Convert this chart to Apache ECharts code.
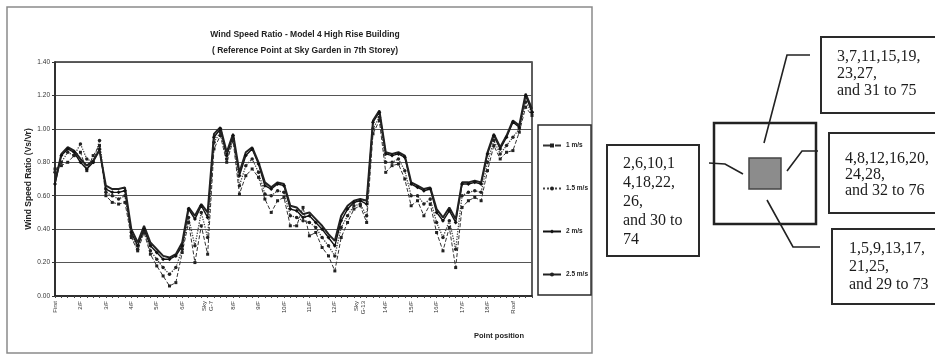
<!DOCTYPE html>
<html>
<head>
<meta charset="utf-8">
<title>Wind Speed Ratio - Model 4</title>
<script src="https://cdn.jsdelivr.net/npm/echarts@6.0.0/dist/echarts.min.js"></script>
<style>
  html, body { margin: 0; padding: 0; background: #fff; }
  #chart { width: 935px; height: 355px; }
</style>
</head>
<body>
<div id="chart"></div>
<script>
// Floor labels along the x axis; each floor holds four measuring points.
const floorLabels = ['First', '2/F', '3/F', '4/F', '5/F', '6/F', 'Sky\nG-7', '8/F', '9/F', '10/F',
  '11/F', '12/F', 'Sky\nG-13', '14/F', '15/F', '16/F', '17/F', '18/F', 'Roof'];
const pointsPerFloor = 4;

// Wind speed ratio (Vs/Vr) at points 1..76 for each reference wind speed.
const ratio1 = [0.76,0.78,0.80,0.84,0.86,0.75,0.84,0.90,0.60,0.56,0.55,0.56,
  0.35,0.27,0.38,0.25,0.18,0.12,0.06,0.08,0.26,0.44,0.20,0.42,0.25,
  0.88,0.96,0.80,0.93,0.61,0.72,0.76,0.71,0.58,0.50,0.57,0.59,0.42,0.42,0.53,0.36,0.38,0.29,0.24,0.15,0.35,0.44,0.52,0.54,0.44,
  0.97,1.05,0.74,0.78,0.79,0.70,0.54,0.57,0.48,0.55,0.38,0.27,0.41,0.17,0.53,0.57,0.59,0.57,0.75,0.90,0.82,0.86,0.87,0.98,1.13,1.08];
const ratio15 = [0.74,0.80,0.86,0.84,0.91,0.82,0.80,0.93,0.62,0.60,0.58,0.60,
  0.36,0.28,0.39,0.27,0.22,0.17,0.13,0.17,0.28,0.47,0.30,0.50,0.35,
  0.92,0.98,0.82,0.94,0.66,0.78,0.82,0.74,0.61,0.60,0.63,0.62,0.48,0.47,0.45,0.44,0.41,0.35,0.30,0.24,0.41,0.48,0.54,0.55,0.48,
  1.00,1.07,0.80,0.80,0.82,0.75,0.60,0.60,0.55,0.58,0.44,0.35,0.45,0.28,0.60,0.62,0.63,0.62,0.80,0.93,0.85,0.90,0.95,1.00,1.16,1.10];
const ratio2 = [0.67,0.84,0.88,0.86,0.80,0.76,0.80,0.88,0.64,0.62,0.62,0.63,
  0.38,0.30,0.40,0.30,0.26,0.22,0.22,0.24,0.30,0.52,0.46,0.54,0.47,
  0.95,1.00,0.84,0.96,0.72,0.84,0.88,0.79,0.66,0.64,0.67,0.66,0.52,0.51,0.47,0.48,0.44,0.40,0.35,0.30,0.45,0.52,0.56,0.57,0.55,
  1.04,1.10,0.85,0.84,0.85,0.83,0.67,0.65,0.63,0.64,0.50,0.45,0.51,0.44,0.67,0.67,0.68,0.67,0.85,0.96,0.88,0.95,1.04,1.01,1.20,1.10];
const ratio25 = [0.68,0.85,0.89,0.87,0.82,0.78,0.81,0.87,0.66,0.64,0.64,0.65,
  0.40,0.32,0.42,0.32,0.28,0.24,0.23,0.25,0.32,0.53,0.48,0.55,0.50,
  0.97,1.01,0.86,0.97,0.74,0.86,0.89,0.80,0.68,0.65,0.68,0.67,0.54,0.53,0.49,0.50,0.46,0.42,0.37,0.33,0.48,0.54,0.57,0.58,0.57,
  1.05,1.11,0.86,0.85,0.86,0.84,0.68,0.66,0.64,0.65,0.52,0.47,0.53,0.46,0.68,0.68,0.69,0.68,0.86,0.97,0.89,0.96,1.05,1.02,1.21,1.12];

const seriesNames = ['1 m/s', '1.5 m/s', '2 m/s', '2.5 m/s'];
const yTicks = { min: 0, max: 1.4, step: 0.2 };

const titleLines = ['Wind Speed Ratio - Model 4 High Rise Building', '( Reference Point at Sky Garden in 7th Storey)'];

// Facade point groups shown in the plan sketch.
const groupTop = ['3,7,11,15,19,', '23,27,', 'and 31 to 75'];
const groupRight = ['4,8,12,16,20,', '24,28,', 'and 32 to 76'];
const groupBottom = ['1,5,9,13,17,', '21,25,', 'and 29 to 73'];
const groupLeft = ['2,6,10,1', '4,18,22,', '26,', 'and 30 to', '74'];

// One category per measuring point; the floor name sits on the first point of each floor.
const pointCount = ratio2.length;
const categories = [];
for (let i = 0; i < pointCount; i++) {
  categories.push(i % pointsPerFloor === 0 ? floorLabels[i / pointsPerFloor] : '');
}

const sansFont = '"Liberation Sans", Arial, sans-serif';
const serifFont = '"Liberation Serif", "Times New Roman", serif';
const ink = '#1c1c1c';

function boxText(lines, x, y, lineHeight) {
  return {
    type: 'text', z: 20,
    style: { text: lines.join('\n'), x: x, y: y, fill: ink,
      font: '16px ' + serifFont, lineHeight: lineHeight, textVerticalAlign: 'top' }
  };
}
function box(x, y, w, h) {
  return { type: 'rect', z: 15, shape: { x: x, y: y, width: w, height: h },
    style: { fill: '#fff', stroke: '#2a2a2a', lineWidth: 2 } };
}
function leader(points) {
  return { type: 'polyline', z: 16, shape: { points: points },
    style: { stroke: '#222', lineWidth: 1.6, fill: null } };
}

const chart = echarts.init(document.getElementById('chart'), null, { renderer: 'canvas' });

chart.setOption({
  animation: false,
  backgroundColor: '#fff',
  textStyle: { fontFamily: sansFont },
  title: {
    text: titleLines.join('\n'),
    left: 300, top: 22, textAlign: 'center',
    textStyle: { fontSize: 8.5, fontWeight: 'bold', color: '#222', lineHeight: 16, fontFamily: sansFont }
  },
  grid: {
    left: 55, right: 403, top: 62, bottom: 59,
    show: true, borderColor: '#2a2a2a', borderWidth: 1.5, backgroundColor: '#fff'
  },
  legend: {
    orient: 'vertical', left: 538, top: 125,
    padding: [17, 3, 17, 4], itemGap: 36, itemWidth: 18, itemHeight: 5,
    borderColor: '#2a2a2a', borderWidth: 1.5,
    textStyle: { fontSize: 6.5, fontWeight: 'bold', color: '#222' },
    data: seriesNames
  },
  xAxis: {
    type: 'category', data: categories, boundaryGap: false,
    axisLine: { lineStyle: { color: '#222', width: 1.5 } },
    axisTick: { show: true, interval: 0, length: 2, lineStyle: { color: '#444' } },
    axisLabel: { interval: 0, rotate: 90, fontSize: 6, color: '#333', margin: 5, lineHeight: 7 },
    splitLine: { show: false }
  },
  yAxis: {
    type: 'value', min: yTicks.min, max: yTicks.max, interval: yTicks.step,
    name: 'Wind Speed Ratio (Vs/Vr)', nameLocation: 'middle', nameGap: 22, nameMoveOverlap: false,
    nameTextStyle: { fontSize: 8.5, fontWeight: 'bold', color: '#222' },
    axisLine: { show: true, lineStyle: { color: '#222', width: 1.5 } },
    axisTick: { show: true, length: 3, lineStyle: { color: '#333' } },
    axisLabel: { fontSize: 6.5, color: '#333', margin: 5, formatter: v => v.toFixed(2) },
    splitLine: { lineStyle: { color: '#555', width: 1.2 } }
  },
  series: [
    { name: seriesNames[0], type: 'line', data: ratio1, symbol: 'rect', symbolSize: 3,
      lineStyle: { type: 'dashed', width: 1, color: '#333' }, itemStyle: { color: '#222' } },
    { name: seriesNames[1], type: 'line', data: ratio15, symbol: 'circle', symbolSize: 3.5,
      lineStyle: { type: 'dotted', width: 1.3, color: '#444' }, itemStyle: { color: '#222' } },
    { name: seriesNames[2], type: 'line', data: ratio2, symbol: 'diamond', symbolSize: 4,
      lineStyle: { width: 1.4, color: '#111' }, itemStyle: { color: '#111' } },
    { name: seriesNames[3], type: 'line', data: ratio25, symbol: 'none',
      lineStyle: { width: 2, color: '#222' }, itemStyle: { color: '#222' } }
  ],
  graphic: [
    // chart frame
    { type: 'rect', z: -1, shape: { x: 7, y: 7, width: 585, height: 346 },
      style: { fill: 'none', stroke: '#8a8a8a', lineWidth: 1.5 } },
    { type: 'text', z: 5, style: { text: 'Point position', x: 499, y: 336, fill: '#222',
      font: 'bold 7.5px ' + sansFont, textAlign: 'center', textVerticalAlign: 'middle' } },

    // plan sketch: building outline and core
    { type: 'rect', z: 10, shape: { x: 714, y: 123, width: 102, height: 101 },
      style: { fill: 'none', stroke: '#222', lineWidth: 2.5 } },
    { type: 'rect', z: 10, shape: { x: 749, y: 158, width: 32, height: 31 },
      style: { fill: '#8c8c8c', stroke: '#444', lineWidth: 1.5 } },

    leader([[764, 143], [787, 55], [810, 55]]),
    leader([[787, 171], [802, 151], [818, 151]]),
    leader([[767, 200], [793, 247], [820, 247]]),
    leader([[709, 163], [725, 164], [743, 174]]),

    box(821, 37, 130, 76),
    boxText(groupTop, 837, 48, 17),
    box(829, 133, 120, 80),
    boxText(groupRight, 845, 151, 16),
    box(832, 229, 120, 75),
    boxText(groupBottom, 849, 240, 18),
    box(607, 145, 92, 111),
    boxText(groupLeft, 623, 154, 19)
  ]
});
</script>
</body>
</html>
